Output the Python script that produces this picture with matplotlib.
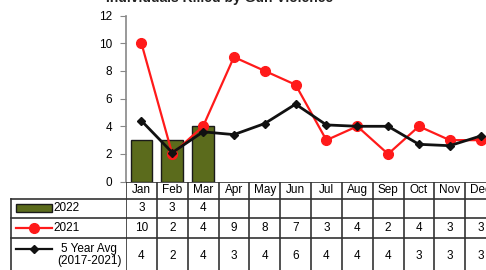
import matplotlib
matplotlib.use("Agg")
import matplotlib.pyplot as plt
import numpy as np

plt.rcParams["font.family"] = ["Liberation Sans", "DejaVu Sans"]

# ---- data ----
months = ["Jan", "Feb", "Mar", "Apr", "May", "Jun", "Jul", "Aug", "Sep", "Oct", "Nov", "Dec"]
y2022 = [3, 3, 4]
y2021 = [10, 2, 4, 9, 8, 7, 3, 4, 2, 4, 3, 3]
avg5 = [4.4, 2.1, 3.6, 3.4, 4.2, 5.6, 4.1, 4.0, 4.0, 2.7, 2.6, 3.3]
avg5_table = [4, 2, 4, 3, 4, 6, 4, 4, 4, 3, 3, 3]
yticks = [0, 2, 4, 6, 8, 10, 12]

W, H = 486, 270
BAR_C = "#5b6b1c"
RED = "#ff1a1a"
GRID_C = "#333333"

fig = plt.figure(figsize=(W / 100, H / 100), dpi=100)

# pixel layout (y measured from top)
ax_left, ax_right = 126, 496
ax_top, ax_bot = 15.5, 181.7

ax = fig.add_axes([ax_left / W, 1 - ax_bot / H, (ax_right - ax_left) / W, (ax_bot - ax_top) / H])
x = np.arange(len(months))
ax.bar(x[:len(y2022)], y2022, width=0.7, color=BAR_C, edgecolor="#1a1a1a", linewidth=1.0, zorder=2)
ax.plot(x, y2021, color=RED, lw=1.6, marker="o", ms=7, mfc=RED, mec=RED, zorder=3)
ax.plot(x, avg5, color="#111111", lw=2.0, marker="D", ms=4.5, mfc="#111111", zorder=4)
ax.set_xlim(-0.5, 11.5)
ax.set_ylim(0, 12)
ax.set_yticks(yticks)
ax.tick_params(axis="y", labelsize=8.5, length=4, color="#888888", pad=6)
ax.set_xticks([])
for s in ["top", "right", "bottom"]:
    ax.spines[s].set_visible(False)
ax.spines["left"].set_color("#888888")
ax.spines["left"].set_linewidth(1.2)

# ---- table under the axes ----
tax = fig.add_axes([ax_left / W, 0, (ax_right - ax_left) / W, 1 - ax_bot / H], sharex=ax)
tax.set_ylim(H, ax_bot)
tax.axis("off")
for r in [ax_bot, 199, 218, 238]:
    tax.axhline(r, color=GRID_C, lw=1.2)
for i in range(len(months) + 1):
    tax.axvline(i - 0.5, color=GRID_C, lw=1.2)
fs = 8.5
for i, m in enumerate(months):
    tax.text(i, 190.5, m, ha="center", va="center", fontsize=fs)
    if i < len(y2022):
        tax.text(i, 208.5, str(y2022[i]), ha="center", va="center", fontsize=fs)
    tax.text(i, 228, str(y2021[i]), ha="center", va="center", fontsize=fs)
    tax.text(i, 256, str(avg5_table[i]), ha="center", va="center", fontsize=fs)

# ---- legend / label column ----
lax = fig.add_axes([0, 0, ax_left / W, 1 - ax_bot / H])
lax.set_xlim(0, ax_left)
lax.set_ylim(H, ax_bot)
lax.axis("off")
for r in [199, 218, 238]:
    lax.plot([11, ax_left], [r, r], color=GRID_C, lw=1.2)
lax.plot([11, 11], [199, H], color=GRID_C, lw=1.2)
lax.add_patch(plt.Rectangle((16, 204.5), 36, 8, facecolor=BAR_C, edgecolor="#1a1a1a", lw=1.0))
lax.text(53, 208.5, "2022", ha="left", va="center", fontsize=fs)
lax.plot([16, 34, 52], [228, 228, 228], color=RED, lw=1.6, marker="o", ms=7,
         markevery=[1], mfc=RED, mec=RED)
lax.text(53, 228, "2021", ha="left", va="center", fontsize=fs)
lax.plot([16, 34, 52], [249.5, 249.5, 249.5], color="#111111", lw=1.6, marker="D", ms=4,
         markevery=[1])
lax.text(89, 249.5, "5 Year Avg", ha="center", va="center", fontsize=fs)
lax.text(89, 261, "(2017-2021)", ha="center", va="center", fontsize=fs)

fig.text(220 / W, 1 - 2 / H, "Individuals Killed by Gun Violence", ha="center", va="baseline",
         fontsize=10, fontweight="bold", color="#222222")

fig.savefig("out.png", dpi=100)
